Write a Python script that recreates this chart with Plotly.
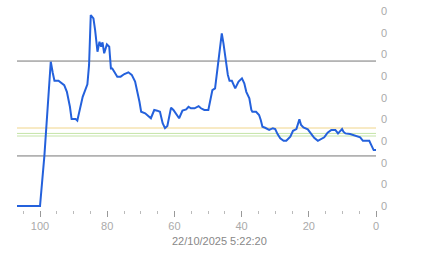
import plotly.graph_objects as go

# Series (x: samples ago, y: value in axis units)
x_vals = [106.85, 100, 98.7, 97.5, 96.8, 96.2, 95.7, 94.5, 92.8, 92.0, 91.1, 90.6, 89.4, 88.9, 88.1,
          87.3, 85.9, 85.4, 84.9, 84.1, 83.6, 82.9, 82.3, 81.8, 81.4, 80.9, 80.1, 79.4, 78.9, 78.5,
          77.9, 77.0, 76.0, 74.9, 73.7, 72.7, 71.7, 71.0, 70.4, 69.9, 68.7, 67.0, 66.0, 65.1, 64.3,
          63.5, 62.8, 62.1, 61.5, 61.0, 60.3, 59.3, 58.6, 57.6, 56.5, 55.8, 55.1, 54.0, 52.8, 52.1,
          51.1, 49.9, 49.4, 48.7, 47.9, 47.4, 46.9, 46.4, 45.9, 45.4, 44.7, 44.1, 43.6, 42.9, 41.9,
          40.9, 39.9, 39.2, 38.6, 37.7, 37.1, 36.8, 35.7, 34.8, 34.3, 33.8, 33.0, 31.8, 30.7, 30.0,
          29.3, 28.5, 27.5, 26.7, 25.5, 24.7, 23.7, 22.8, 22.3, 21.6, 20.3, 19.4, 18.4, 17.3, 16.6,
          15.4, 14.4, 13.3, 12.1, 11.3, 10.8, 10.1, 9.7, 9.1, 7.7, 6.7, 5.7, 4.7, 3.9, 2.7,
          2.0, 1.4, 0.7, 0.0]
y_vals = [0.0, 0.0, 2.31, 4.89, 6.66, 6.14, 5.78, 5.78, 5.58, 5.27, 4.58, 4.01, 4.01, 3.94, 4.58,
          5.04, 5.62, 6.51, 8.81, 8.66, 8.12, 7.12, 7.58, 7.35, 7.55, 7.05, 7.46, 7.35, 6.35, 6.35,
          6.20, 5.97, 5.97, 6.09, 6.17, 6.05, 5.74, 5.27, 4.81, 4.35, 4.28, 4.05, 4.43, 4.40, 4.35,
          3.82, 3.59, 3.69, 4.20, 4.54, 4.43, 4.20, 4.05, 4.40, 4.46, 4.58, 4.51, 4.51, 4.61, 4.51,
          4.43, 4.43, 4.89, 5.35, 5.43, 6.12, 6.89, 7.35, 7.97, 7.51, 6.74, 6.05, 5.78, 5.78, 5.43,
          5.74, 5.89, 5.66, 5.27, 4.97, 4.43, 4.35, 4.35, 4.20, 3.97, 3.66, 3.61, 3.51, 3.59, 3.55,
          3.32, 3.12, 3.01, 3.01, 3.20, 3.47, 3.55, 4.00, 3.74, 3.63, 3.54, 3.35, 3.15, 3.01, 3.08,
          3.17, 3.38, 3.51, 3.51, 3.35, 3.43, 3.55, 3.43, 3.35, 3.32, 3.28, 3.23, 3.17, 3.01, 3.01,
          3.01, 2.81, 2.58, 2.58]

# Reference levels (horizontal lines)
ref_levels = [6.69, 2.31, 3.60, 3.35, 3.23]
ref_colors = ["#777777", "#777777", "#f0d58a", "#c4e4a8", "#c4e4a8"]

y_ticks = [0, 1, 2, 3, 4, 5, 6, 7, 8, 9]
y_tick_text = ["0"] * len(y_ticks)
x_ticks = [100, 80, 60, 40, 20, 0]
title_text = "22/10/2025 5:22:20"

fig = go.Figure()
fig.add_trace(go.Scatter(x=x_vals, y=y_vals, mode="lines",
                         line=dict(color="#2461dc", width=2), hoverinfo="skip"))

for lvl, col in zip(ref_levels, ref_colors):
    fig.add_shape(type="line", xref="paper", x0=0, x1=1, yref="y", y0=lvl, y1=lvl,
                  line=dict(color=col, width=1), layer="below")

fig.update_layout(
    width=443, height=258,
    margin=dict(l=17, r=67, t=11, b=48, autoexpand=False),
    paper_bgcolor="white", plot_bgcolor="white",
    showlegend=False,
    font=dict(family="Liberation Sans, Arial, sans-serif", color="#aaaaaa", size=11),
    xaxis=dict(range=[106.85, 0], tickvals=x_ticks, ticks="outside", ticklen=6,
               tickcolor="#999999", tickwidth=1, showgrid=False, zeroline=False,
               showline=False, automargin=False, tickfont=dict(size=11, color="#aaaaaa"),
               minor=dict(dtick=5, ticks="outside", ticklen=3, tickcolor="#bbbbbb",
                          showgrid=False)),
    yaxis=dict(range=[-0.185, 9], side="right", tickvals=y_ticks, ticktext=y_tick_text,
               ticks="", showgrid=False, zeroline=False, showline=False, automargin=False,
               ticklabelstandoff=4, tickfont=dict(size=11, color="#aaaaaa")),
    annotations=[dict(text=title_text, xref="paper", yref="paper", x=0.5627, y=-0.154,
                      xanchor="center", yanchor="middle", showarrow=False,
                      font=dict(size=11, color="#888888"))],
)

fig.write_html("out.html")
